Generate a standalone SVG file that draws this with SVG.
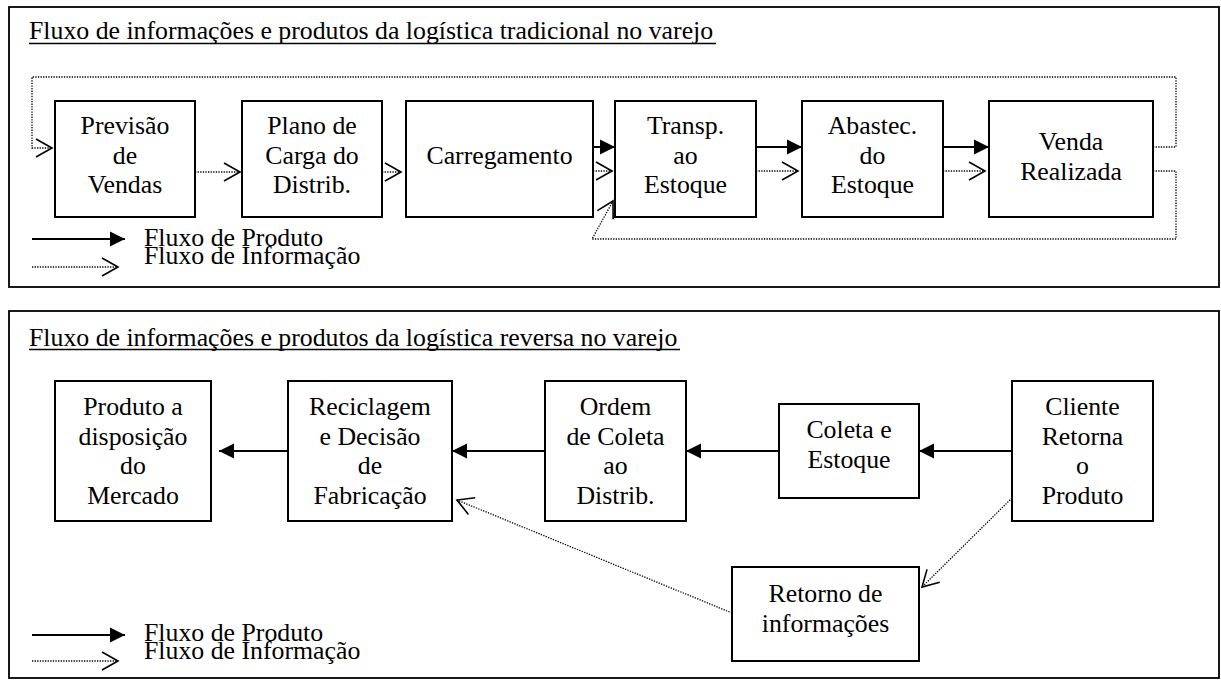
<svg xmlns="http://www.w3.org/2000/svg" width="1221" height="680" viewBox="0 0 1221 680">
<style>
text{font-family:"Liberation Serif","Times New Roman",serif;font-size:25.8px;fill:#000}
.c{text-anchor:middle}
.panel{fill:none;stroke:#000;stroke-width:1.8}
.box{fill:#fff;stroke:#000;stroke-width:2}
.solid{fill:none;stroke:#000;stroke-width:2}
.dot{fill:none;stroke:#000;stroke-width:1.3;stroke-dasharray:1.3,1.3}
.ul{stroke:#000;stroke-width:1.5}
</style>
<defs>
<marker id="fa" markerUnits="userSpaceOnUse" markerWidth="16" markerHeight="16" refX="15" refY="7.5" orient="auto" overflow="visible">
<path d="M0,0 L15,7.5 L0,15 z" fill="#000"/>
</marker>
<marker id="oa" markerUnits="userSpaceOnUse" markerWidth="18" markerHeight="20" refX="16" refY="9" orient="auto" overflow="visible">
<path d="M0,0 L16,9 L0,18" fill="none" stroke="#000" stroke-width="1.6"/>
</marker>
</defs>
<rect width="1221" height="680" fill="#fff"/>

<!-- Top panel -->
<g id="panel-top">
<rect class="panel" x="9" y="7" width="1210" height="280"/>
<text x="29" y="39">Fluxo de informações e produtos da logística tradicional no varejo</text>
<line class="ul" x1="29" y1="43.5" x2="716" y2="43.5"/>
</g>

<g id="connectors-top">
<path class="dot" d="M1153,147 H1176 V77 H32 V148 H52" marker-end="url(#oa)"/>
<path class="dot" d="M1153,171 H1176 V239 H592 L613,201" marker-end="url(#oa)"/>
<path class="dot" d="M195,172 H240" marker-end="url(#oa)"/>
<path class="dot" d="M382,172 H401" marker-end="url(#oa)"/>
<path class="solid" d="M593,147 H615" marker-end="url(#fa)"/>
<path class="dot" d="M593,171 H612" marker-end="url(#oa)"/>
<path class="solid" d="M756,147 H802" marker-end="url(#fa)"/>
<path class="dot" d="M756,171 H798" marker-end="url(#oa)"/>
<path class="solid" d="M943,147 H989" marker-end="url(#fa)"/>
<path class="dot" d="M943,171 H985" marker-end="url(#oa)"/>
</g>

<g id="n-previsao">
<rect class="box" x="55" y="101" width="140" height="116"/>
<text class="c" x="125" y="134">Previsão</text>
<text class="c" x="125" y="163.5">de</text>
<text class="c" x="125" y="193">Vendas</text>
</g>
<g id="n-plano">
<rect class="box" x="242" y="101" width="140" height="116"/>
<text class="c" x="312" y="134">Plano de</text>
<text class="c" x="312" y="163.5">Carga do</text>
<text class="c" x="312" y="193">Distrib.</text>
</g>
<g id="n-carregamento">
<rect class="box" x="406" y="101" width="187" height="116"/>
<text class="c" x="499.5" y="164">Carregamento</text>
</g>
<g id="n-transp">
<rect class="box" x="615" y="101" width="141" height="116"/>
<text class="c" x="685.5" y="134">Transp.</text>
<text class="c" x="685.5" y="163.5">ao</text>
<text class="c" x="685.5" y="193">Estoque</text>
</g>
<g id="n-abastec">
<rect class="box" x="802" y="101" width="141" height="116"/>
<text class="c" x="872.5" y="134">Abastec.</text>
<text class="c" x="872.5" y="163.5">do</text>
<text class="c" x="872.5" y="193">Estoque</text>
</g>
<g id="n-venda">
<rect class="box" x="989" y="101" width="164" height="116"/>
<text class="c" x="1071" y="150">Venda</text>
<text class="c" x="1071" y="179.5">Realizada</text>
</g>

<g id="legend-top">
<path class="solid" d="M32,239 H125" marker-end="url(#fa)"/>
<path class="dot" d="M32,267 H118" marker-end="url(#oa)"/>
<text x="144" y="246">Fluxo de Produto</text>
<text x="144" y="264">Fluxo de Informação</text>
</g>

<!-- Bottom panel -->
<g id="panel-bottom">
<rect class="panel" x="9" y="311" width="1210" height="367"/>
<text x="29" y="346">Fluxo de informações e produtos da logística reversa no varejo</text>
<line class="ul" x1="29" y1="349.5" x2="680" y2="349.5"/>
</g>

<g id="connectors-bottom">
<path class="solid" d="M1012,451 H919" marker-end="url(#fa)"/>
<path class="solid" d="M779,451 H686" marker-end="url(#fa)"/>
<path class="solid" d="M545,451 H452" marker-end="url(#fa)"/>
<path class="solid" d="M288,451 H219" marker-end="url(#fa)"/>
<path class="dot" d="M1012,498 L922,587" marker-end="url(#oa)"/>
<path class="dot" d="M732,613 L457,500" marker-end="url(#oa)"/>
</g>

<g id="n-produto">
<rect class="box" x="55" y="381" width="156" height="140"/>
<text class="c" x="133" y="415">Produto a</text>
<text class="c" x="133" y="445">disposição</text>
<text class="c" x="133" y="474">do</text>
<text class="c" x="133" y="504">Mercado</text>
</g>
<g id="n-reciclagem">
<rect class="box" x="288" y="381" width="164" height="140"/>
<text class="c" x="370" y="415">Reciclagem</text>
<text class="c" x="370" y="445">e Decisão</text>
<text class="c" x="370" y="474">de</text>
<text class="c" x="370" y="504">Fabricação</text>
</g>
<g id="n-ordem">
<rect class="box" x="545" y="381" width="141" height="140"/>
<text class="c" x="615.5" y="415">Ordem</text>
<text class="c" x="615.5" y="445">de Coleta</text>
<text class="c" x="615.5" y="474">ao</text>
<text class="c" x="615.5" y="504">Distrib.</text>
</g>
<g id="n-coleta">
<rect class="box" x="779" y="404" width="140" height="94"/>
<text class="c" x="849" y="438">Coleta e</text>
<text class="c" x="849" y="468">Estoque</text>
</g>
<g id="n-cliente">
<rect class="box" x="1012" y="381" width="141" height="140"/>
<text class="c" x="1082.5" y="415">Cliente</text>
<text class="c" x="1082.5" y="445">Retorna</text>
<text class="c" x="1082.5" y="474">o</text>
<text class="c" x="1082.5" y="504">Produto</text>
</g>
<g id="n-retorno">
<rect class="box" x="732" y="567" width="187" height="94"/>
<text class="c" x="825.5" y="602">Retorno de</text>
<text class="c" x="825.5" y="632">informações</text>
</g>

<g id="legend-bottom">
<path class="solid" d="M32,635 H125" marker-end="url(#fa)"/>
<path class="dot" d="M32,661 H118" marker-end="url(#oa)"/>
<text x="144" y="641">Fluxo de Produto</text>
<text x="144" y="659">Fluxo de Informação</text>
</g>
</svg>
